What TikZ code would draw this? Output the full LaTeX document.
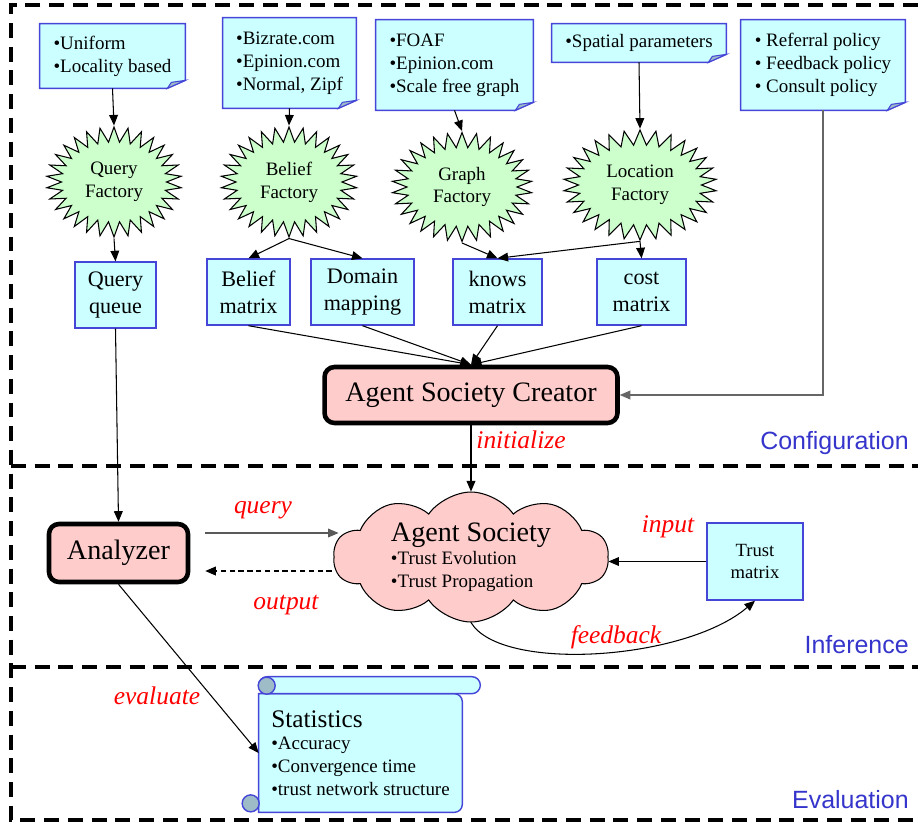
\documentclass[tikz,border=0pt]{standalone}
\usepackage{fontspec}
\setmainfont{Liberation Serif}
\newfontfamily\sectfont{Liberation Sans}
\usetikzlibrary{shapes.symbols,arrows.meta,calc,backgrounds}
\definecolor{notecyan}{HTML}{CCFFFF}
\definecolor{noteblue}{HTML}{4545D8}
\definecolor{foldgray}{HTML}{9DBCC8}
\definecolor{burstgreen}{HTML}{CCFFCC}
\definecolor{agentpink}{HTML}{FFCCCC}
\definecolor{sectblue}{HTML}{3535CC}
\begin{document}
\begin{tikzpicture}[x=0.02cm, y=-0.02cm,
  notebox/.style={inner sep=0pt, align=left, font=\fontsize{10.8}{13}\selectfont},
  notefill/.style={draw=noteblue, fill=notecyan, line width=0.8pt},
  foldfill/.style={draw=noteblue, fill=foldgray, line width=0.6pt},
  factory/.style={starburst, draw, fill=burstgreen, line width=0.6pt,
    starburst points=30, starburst point height=0.3cm, random starburst=0,
    align=center, inner sep=0pt, font=\fontsize{10.8}{13}\selectfont},
  matbox/.style={draw=noteblue, fill=notecyan, line width=0.8pt, align=center,
    inner sep=0pt, font=\fontsize{12.6}{15.3}\selectfont},
  agentbox/.style={draw, fill=agentpink, line width=2.6pt, rounded corners=0.2cm,
    inner sep=0pt, font=\fontsize{16}{19}\selectfont},
  scroll/.style={draw=noteblue, fill=notecyan, line width=0.8pt},
  arr/.style={-{Triangle[length=6pt,width=5pt]}, line width=0.6pt},
  lbl/.style={text=red, font=\itshape\fontsize{14.5}{17}\selectfont},
  section/.style={text=sectblue, font=\sectfont\fontsize{14.2}{17}\selectfont, anchor=east, inner sep=0pt},
  frame/.style={line width=2.3pt, dash pattern=on 8.5pt off 5pt},
]
  \useasboundingbox (0,0) rectangle (918,825);

  % section frames
  \draw[frame] (918,5) -- (11,5) -- (11,820) -- (918,820);
  \draw[frame] (11,466) -- (918,466);
  \draw[frame] (11,667) -- (918,667);

  % parameter notes
  \node[notebox, minimum width=2.9cm, minimum height=1.28cm] (uninote) at (112.5,56) {•Uniform\\•Locality based};
  \node[notebox, minimum width=2.66cm, minimum height=1.8cm] (bizrnote) at (289.5,63) {•Bizrate.com\\•Epinion.com\\•Normal, Zipf};
  \node[notebox, minimum width=3.14cm, minimum height=1.8cm] (foafnote) at (454.5,65) {•FOAF\\•Epinion.com\\•Scale free graph};
  \node[notebox, minimum width=3.48cm, minimum height=0.76cm] (spatnote) at (639,43) {•Spatial parameters};
  \node[notebox, minimum width=3.28cm, minimum height=1.8cm] (polnote) at (823,65) {• Referral policy\\• Feedback policy\\• Consult policy};

  \begin{scope}[on background layer]
    \foreach \n in {uninote,bizrnote,foafnote,spatnote,polnote}{
      \filldraw[notefill] (\n.north west) -- (\n.north east) -- ($(\n.south east)+(0,-8)$)
        -- ($(\n.south east)+(-18,0)$) -- (\n.south west) -- cycle;
      \filldraw[foldfill] ($(\n.south east)+(-18,0)$) -- ($(\n.south east)+(-14,-6)$)
        -- ($(\n.south east)+(0,-8)$) -- cycle;
    }
  \end{scope}

  % factories
  \node[factory, minimum width=2.7cm, minimum height=2.2cm] (qfact) at (114,182) {Query\\Factory};
  \node[factory, minimum width=2.72cm, minimum height=2.2cm] (bfact) at (289,182) {Belief\\Factory};
  \node[factory, minimum width=2.8cm, minimum height=2.18cm] (gfact) at (462,187) {Graph\\Factory};
  \node[factory, minimum width=3.06cm, minimum height=2.2cm] (lfact) at (640,185) {Location\\Factory};

  % generated data
  \node[matbox, minimum width=1.62cm, minimum height=1.32cm] (queue) at (115.5,295) {Query\\queue};
  \node[matbox, minimum width=1.66cm, minimum height=1.32cm] (bmat) at (248.5,292) {Belief\\matrix};
  \node[matbox, minimum width=2.06cm, minimum height=1.32cm] (dmap) at (362.5,292) {Domain\\mapping};
  \node[matbox, minimum width=1.78cm, minimum height=1.32cm] (kmat) at (497.5,292) {knows\\matrix};
  \node[matbox, minimum width=1.78cm, minimum height=1.32cm] (cmat) at (641.5,292) {cost\\matrix};

  \node[agentbox, minimum width=5.86cm, minimum height=1.12cm] (asc) at (471,395) {Agent Society Creator};
  \node[agentbox, minimum width=2.78cm, minimum height=1.16cm] (analyzer) at (118.5,553) {Analyzer};

  % agent society cloud
  \node[cloud, cloud puffs=10, cloud puff arc=110, cloud ignores aspect, draw, fill=agentpink,
    line width=0.6pt, minimum width=5.5cm, minimum height=2.6cm, inner sep=0pt, align=left,
    font=\fontsize{10.8}{13}\selectfont] (society) at (471,557)
    {{\fontsize{16}{19}\selectfont Agent Society}\\•Trust Evolution\\•Trust Propagation};
  \node[matbox, minimum width=1.92cm, minimum height=1.54cm, font=\fontsize{10.6}{13}\selectfont] (trust) at (755,561.5) {Trust\\matrix};

  % statistics scroll
  \node[inner sep=0pt, minimum width=4.06cm, minimum height=2.36cm, align=left,
    font=\fontsize{10.8}{13}\selectfont] (stats) at (360.5,753)
    {{\fontsize{14.4}{17}\selectfont Statistics}\\•Accuracy\\•Convergence time\\•trust network structure};
  \begin{scope}[on background layer]
    \filldraw[scroll] (stats.north west) -- (stats.south west)
      {[rounded corners=0.16cm] -- (stats.south east) -- (stats.north east)} -- cycle;
    \filldraw[scroll, rounded corners=0.17cm] ($(stats.north west)+(0,-17)$) rectangle ($(stats.north east)+(18,0)$);
    \filldraw[scroll, fill=foldgray] ($(stats.north west)+(8,-8)$) circle (0.17cm);
    \filldraw[scroll, fill=foldgray] ($(stats.south west)+(-8,-9)$) circle (0.17cm);
  \end{scope}

  % connectors
  \draw[arr] (uninote.south) -- (qfact.north);
  \draw[arr] (bizrnote.south) -- (bfact.north);
  \draw[arr] (foafnote.south) -- (gfact.north);
  \draw[arr] (spatnote.south) -- (lfact.north);
  \draw[arr] (qfact.south) -- (queue.north);
  \draw[arr] (bfact.south) -- (bmat.north);
  \draw[arr] (bfact.south) -- (dmap.north);
  \draw[arr] (gfact.south) -- (kmat.north);
  \draw[arr] (lfact.south) -- (kmat.north);
  \draw[arr] (lfact.south) -- (cmat.north);
  \foreach \m in {bmat,dmap,kmat,cmat}
    \draw[arr] (\m.south) -- (asc.north);
  \draw[arr, draw=black!60] (polnote.south) |- (asc.east);
  \draw[arr] (queue.south) -- (analyzer.north);
  \draw[arr] (asc.south) -- (society.north);
  \draw[arr, draw=black!65] ($(analyzer.east)+(15,-20)$) -- ($(analyzer.east -| society.west)+(5,-20)$);
  \draw[arr, dash pattern=on 3pt off 2pt] ($(analyzer.east -| society.west)+(-2,18)$) -- ($(analyzer.east)+(15,18)$);
  \draw[arr] (trust.west) -- (trust.west -| society.east);
  \draw[arr] (society.south) .. controls +(30,50) and +(-70,60) .. (trust.south);
  \draw[arr] (analyzer.south) -- (stats.west);

  % connector labels
  \node[lbl] (initlbl) at (521,440) {initialize};
  \node[lbl] (querylbl) at (263,510) {query};
  \node[lbl] (outlbl) at (286,605) {output};
  \node[lbl] (inlbl) at (668,527) {input};
  \node[lbl] (fblbl) at (616,637) {feedback};
  \node[lbl] (evallbl) at (157,696) {evaluate};

  % section names
  \node[section] (confsec) at (909,443) {Configuration};
  \node[section] (infsec) at (909,645) {Inference};
  \node[section] (evalsec) at (909,800) {Evaluation};
\end{tikzpicture}
\end{document}
